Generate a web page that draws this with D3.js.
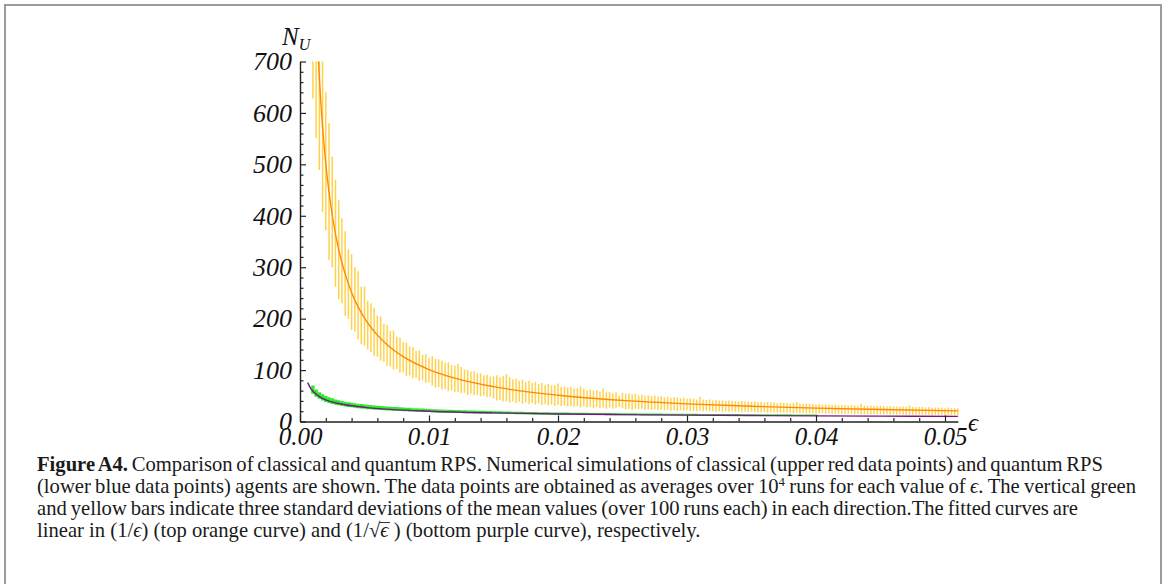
<!DOCTYPE html>
<html>
<head>
<meta charset="utf-8">
<script src="https://cdn.jsdelivr.net/npm/d3@7"></script>
<style>
    body { margin: 0; background: #fff; }
    svg { display: block; }
</style>
</head>
<body>
<svg id="fig" width="1168" height="584"></svg>
<script>
// simulation grid: eps = 0.001, 0.00125, ... (one bar per value)
const epsStart = 0.001;
const epsStep = 0.00025;

// classical RPS, mean -/+ 3 sigma (yellow bars)
const classicalLow = [
    628,551,489,408,372,314,300,262,238,230,205,200,178,175,160,150,148,
    140,135,128,126,118,116,108,107,101,102,95,96,88,90,84,85,79,80,75,76,
    70,66,67,62,63,60,61,57,58,55,56,52,54,51,52,49,50,47,48,45,
    41,42,39,40,37,39,36,38,35,37,34,36,33,35,32,34,31,33,30,32,
    30,31,29,30,28,30,27,29,27,28,26,28,26,27,25,27,25,26,28,26,24,25,23,25,
    24,25,23,24,23,24,22,23,22,23,21,22,21,22,21,22,20,21,20,21,
    20,21,20,20,19,20,19,20,19,20,19,19,18,19,18,19,18,18,18,18,
    17,18,17,18,17,17,17,17,16,17,16,17,16,16,16,16,16,16,15,16,
    15,15,15,15,15,15,15,14,15,14,14,14,14,14,14,14,14,14,13,14,
    13,14,13,13,13,13,13,13,13,13,13,12,13,12,13,12,12,12,12,12
];
const classicalHigh = [
    1290,1010,860,720,640,580,515,470,430,395,370,335,325,300,292,262,262,
    235,230,221,206,204,190,188,176,177,165,163,154,153,146,145,137,138,130,131,124,
    127,122,121,118,114,115,110,109,112,106,101,100,97,98,94,94,90,91,87,88,
    90,86,88,92,86,82,83,79,81,77,79,75,77,73,75,71,73,70,71,74,
    67,68,66,67,64,65,68,64,61,62,60,61,58,64,57,58,56,57,50,56,54,55,53,54,
    51,52,50,51,49,50,48,49,47,48,46,47,46,45,46,44,45,44,43,48,
    43,42,43,41,42,41,41,40,41,40,40,39,40,39,39,38,39,38,38,37,
    38,37,37,36,37,36,36,35,36,38,35,34,35,34,34,33,34,33,33,33,
    32,33,32,32,32,31,32,31,31,34,31,30,31,30,30,30,30,29,30,29,
    29,29,29,28,31,28,28,28,28,27,28,27,27,27,27,26,27,26,26,26
];

// quantum RPS, mean -/+ 3 sigma (green bars), eps up to 0.04
const quantumLow = [
    54,48,44,41,38,36,34,32.5,31.5,30,29,28,27.5,26.5,26,25.5,25,24,24,23,23,
    22.5,22,21.5,21.5,21,21,20.5,20,20,19.5,19.5,19,19,18.5,18.5,18.5,
    18,18,17.5,17.5,17,17,17,
    16.5,16.5,16.5,16,16,16,15.5,15.5,
    15.5,15.5,15,15,15,15,14.5,14.5,
    14.5,14.5,14.5,14,14,14,14,14,
    13.5,13.5,13.5,13.5,13.5,13.5,13,13,
    13,13,13,13,13,13,13,12.5,12.5,12.5,12.5,12.5,12.5,12.5,12.5,12,12,12,12,12,
    12,12,12,12,12,12,11.5,11.5,11.5,11.5,11.5,11.5,11.5,11.5,11.5,11.5,11.5,11.5,11.5,11.5,
    11.5,11.5,11,11,11,11,11,11,11,11,11,11,11,11,11,11,11,11,11,11,
    11,11,11,10.5,10.5,10.5,10.5,10.5,10.5,10.5,10.5,10.5,10.5,10.5,10.5,10.5,10.5,10.5,10.5,10.5,10.5
];
const quantumHigh = [
    70,62,57,53,49.5,47,45,43,41.5,40,38.5,37.5,36.5,35.5,34.5,34,33,32.5,32,31,30.5,
    30,29.5,29,28.5,28,28,27.5,27,26.5,26.5,26,26,25.5,25.5,25,24.5,
    24,24,23.5,23.5,23,23,23,
    22.5,22.5,22,22,21.5,21.5,21.5,21,
    21,21,20.5,20.5,20,20,20,19.5,
    19.5,19.5,19,19,19,19,18.5,18.5,
    18.5,18.5,18,18,18,18,17.5,17.5,
    17.5,17.5,17.5,17.5,17,17,17,17,17,17,16.5,16.5,16.5,16.5,16.5,16.5,16.5,16,16,16,
    16,16,16,16,16,15.5,15.5,15.5,15.5,15.5,15.5,15.5,15.5,15,15,15,15,15,15,15,
    15,15,15,15,14.5,14.5,14.5,14.5,14.5,14.5,14.5,14.5,14.5,14.5,14.5,14.5,14.5,14,14,14,
    14,14,14,14,14,14,14,14,14,14,14,14,14,13.5,13.5,13.5,13.5,13.5,13.5,13.5,13.5
];

// fitted curves: [eps, N_U]
const classicalFit = [
    [0.0013, 770], [0.0014, 715], [0.0016, 626], [0.0018, 557], [0.002, 501],
    [0.0025, 401], [0.003, 334], [0.0035, 287], [0.004, 251], [0.005, 201],
    [0.006, 168], [0.007, 144], [0.008, 126], [0.01, 101], [0.012, 84.3],
    [0.015, 67.7], [0.02, 51], [0.025, 41], [0.03, 34.3], [0.035, 29.6],
    [0.04, 26], [0.045, 23.2], [0.051, 20.6]
];
const quantumFit = [
    [0.0006, 75.5], [0.0008, 65.6], [0.001, 58.9], [0.0015, 48.5], [0.002, 42.2],
    [0.003, 34.9], [0.004, 30.5], [0.005, 27.5], [0.007, 23.5], [0.01, 20],
    [0.015, 16.7], [0.02, 14.7], [0.025, 13.4], [0.03, 12.4], [0.035, 11.6],
    [0.04, 11.0], [0.045, 10.5], [0.051, 10.0]
];

const xTicks = [0, 0.01, 0.02, 0.03, 0.04, 0.05];
const xMinorTicks = [0.002, 0.004, 0.006, 0.008, 0.012, 0.014, 0.016, 0.018,
    0.022, 0.024, 0.026, 0.028, 0.032, 0.034, 0.036, 0.038,
    0.042, 0.044, 0.046, 0.048];
const yTicks = [0, 100, 200, 300, 400, 500, 600, 700];
const yMinorTicks = [20, 40, 60, 80, 120, 140, 160, 180, 220, 240, 260, 280,
    320, 340, 360, 380, 420, 440, 460, 480, 520, 540, 560, 580,
    620, 640, 660, 680];

const captionLines = [
    [{ t: "Figure A4.", b: true }, { t: " Comparison of classical and quantum RPS. Numerical simulations of classical (upper red data points) and quantum RPS" }],
    [{ t: "(lower blue data points) agents are shown. The data points are obtained as averages over 10" }, { t: "4", sup: true }, { t: " runs for each value of " }, { t: "\u03f5", i: true }, { t: ". The vertical green" }],
    [{ t: "and yellow bars indicate three standard deviations of the mean values (over 100 runs each) in each direction.The fitted curves are" }],
    [{ t: "linear in (1/" }, { t: "\u03f5", i: true }, { t: ") (top orange curve) and (1/\u221a" }, { t: "\u03f5", i: true }, { t: " ) (bottom purple curve), respectively." }]
];

const serif = "'Liberation Serif', 'DejaVu Serif', serif";
const svg = d3.select("#fig");

// outer frame
svg.append("rect")
    .attr("x", 5).attr("y", 5)
    .attr("width", 1156).attr("height", 640)
    .attr("fill", "none")
    .attr("stroke", "#9b9b9b")
    .attr("stroke-width", 2);

const x = d3.scaleLinear().domain([0, 0.051]).range([300, 300 + 0.051 * 12900]);
const y = d3.scaleLinear().domain([0, 700]).range([421.5, 61.5]);
const epsAt = i => epsStart + i * epsStep;

svg.append("clipPath").attr("id", "plotClip")
    .append("rect")
    .attr("x", 300).attr("y", y(700))
    .attr("width", x(0.051) - 300 + 1).attr("height", y(0) - y(700) + 4);

const plot = svg.append("g").attr("clip-path", "url(#plotClip)");

// yellow bars
plot.append("g")
    .selectAll("line")
    .data(classicalLow)
    .join("line")
    .attr("x1", (d, i) => x(epsAt(i)))
    .attr("x2", (d, i) => x(epsAt(i)))
    .attr("y1", d => y(d))
    .attr("y2", (d, i) => y(classicalHigh[i]))
    .attr("stroke", "#ffbf00")
    .attr("stroke-opacity", 0.7)
    .attr("stroke-width", 1.5);

// green bars
plot.append("g")
    .selectAll("line")
    .data(quantumLow)
    .join("line")
    .attr("x1", (d, i) => x(epsAt(i)))
    .attr("x2", (d, i) => x(epsAt(i)))
    .attr("y1", d => y(d))
    .attr("y2", (d, i) => y(quantumHigh[i]))
    .attr("stroke", "#22f022")
    .attr("stroke-width", 3.4);

const line = d3.line()
    .x(d => x(d[0]))
    .y(d => y(d[1]))
    .curve(d3.curveMonotoneX);

plot.append("path")
    .attr("d", line(classicalFit))
    .attr("fill", "none")
    .attr("stroke", "#ff8a00")
    .attr("stroke-width", 1.4);

plot.append("path")
    .attr("d", line(quantumFit))
    .attr("fill", "none")
    .attr("stroke", "#7d1488")
    .attr("stroke-width", 1.4);

// axes: ticks point into the plot
const axisColor = "#222";
function styleAxis(g, size) {
    g.selectAll(".domain").attr("stroke", axisColor).attr("stroke-width", 1.4);
    g.selectAll(".tick line").attr("stroke", axisColor).attr("stroke-width", 1.2);
    g.selectAll(".tick text")
        .attr("fill", "#111")
        .style("font-family", serif)
        .style("font-style", "italic")
        .style("font-size", `${size || 26}px`);
}

svg.append("g")
    .attr("transform", `translate(0,${y(0)})`)
    .call(d3.axisBottom(x).tickValues(xMinorTicks).tickSize(-3.5).tickFormat(""))
    .call(g => g.select(".domain").remove())
    .call(styleAxis);
svg.append("g")
    .attr("transform", `translate(0,${y(0)})`)
    .call(d3.axisBottom(x).tickValues(xTicks).tickSize(-6).tickSizeOuter(0)
        .tickPadding(6).tickFormat(d3.format(".2f")))
    .call(styleAxis, 25);

svg.append("g")
    .attr("transform", `translate(${x(0)},0)`)
    .call(d3.axisLeft(y).tickValues(yMinorTicks).tickSize(-3.5).tickFormat(""))
    .call(g => g.select(".domain").remove())
    .call(styleAxis);
svg.append("g")
    .attr("transform", `translate(${x(0)},0)`)
    .call(d3.axisLeft(y).tickValues(yTicks).tickSize(-6).tickSizeOuter(0)
        .tickPadding(8).tickFormat(d3.format("d")))
    .call(styleAxis, 26);

// axis labels
const yLabel = svg.append("text")
    .attr("x", 282).attr("y", 45)
    .style("font-family", serif)
    .style("font-style", "italic")
    .style("font-size", "25px")
    .attr("fill", "#111");
yLabel.append("tspan").text("N");
yLabel.append("tspan").attr("dy", 5).style("font-size", "16px").text("U");

svg.append("text")
    .attr("x", 968).attr("y", 431)
    .style("font-family", serif)
    .style("font-style", "italic")
    .style("font-size", "25px")
    .attr("fill", "#111")
    .text("\u03f5");

// caption
const capLeft = 37;
const capBaselines = [471, 493, 515, 537];
const capRight = [1103, 1136, 1078, null];
const lastLineWidth = 664;

const capTexts = captionLines.map((segs, li) => {
    const t = svg.append("text")
        .attr("x", capLeft).attr("y", capBaselines[li])
        .style("font-family", serif)
        .style("font-size", "18px")
        .attr("fill", "#1a1a1a");
    let shifted = false;
    segs.forEach(s => {
        const sp = t.append("tspan").text(s.t);
        if (s.b) sp.style("font-weight", "bold");
        if (s.i) sp.style("font-style", "italic");
        if (s.sup) {
            sp.attr("dy", -7).classed("sup", true);
            shifted = true;
        } else if (shifted) {
            sp.attr("dy", 7);
            shifted = false;
        }
    });
    return t;
});

// size the font from the last (unjustified) line, then justify the others
const natural = capTexts[3].node().getComputedTextLength();
const fontSize = 18 * lastLineWidth / natural;
capTexts.forEach(t => t.style("font-size", `${fontSize}px`));
capTexts.forEach(t => t.selectAll("tspan.sup").style("font-size", `${fontSize * 0.62}px`));

capTexts.forEach((t, li) => {
    if (capRight[li] == null) return;
    const len = t.node().getComputedTextLength();
    const spaces = (t.node().textContent.match(/ /g) || []).length;
    t.attr("word-spacing", (capRight[li] - capLeft - len) / spaces);
});

// radical bar over the epsilon in the last line
const lastNode = capTexts[3].node();
const epsIdx = lastNode.textContent.indexOf("\u221a") + 1;
const barStart = lastNode.getStartPositionOfChar(epsIdx).x;
const barEnd = lastNode.getEndPositionOfChar(epsIdx).x;
svg.append("line")
    .attr("x1", barStart - 0.5).attr("x2", barEnd + 1.5)
    .attr("y1", capBaselines[3] - fontSize * 0.7)
    .attr("y2", capBaselines[3] - fontSize * 0.7)
    .attr("stroke", "#1a1a1a")
    .attr("stroke-width", 0.9);
</script>
</body>
</html>
